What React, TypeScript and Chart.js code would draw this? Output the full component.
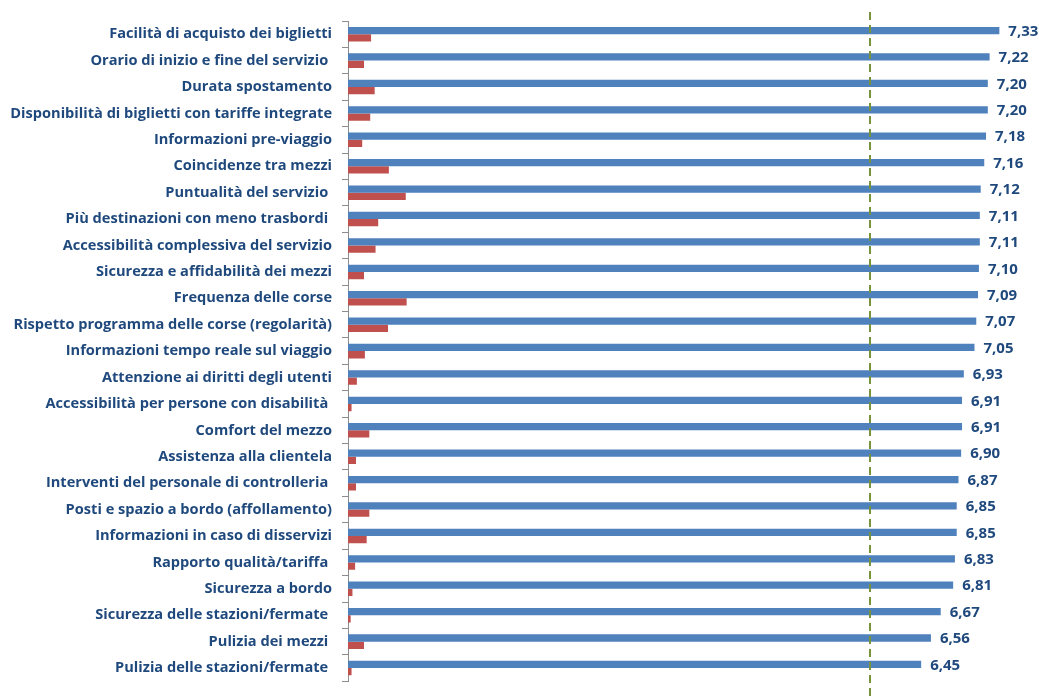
import React, { useEffect, useRef } from "react";
import { Chart, registerables } from "chart.js";

Chart.register(...registerables);

const categories = [
  "Facilità di acquisto dei biglietti",
  "Orario di inizio e fine del servizio ",
  "Durata spostamento",
  "Disponibilità di biglietti con tariffe integrate",
  "Informazioni pre-viaggio",
  "Coincidenze tra mezzi",
  "Puntualità del servizio ",
  "Più destinazioni con meno trasbordi ",
  "Accessibilità complessiva del servizio",
  "Sicurezza e affidabilità dei mezzi",
  "Frequenza delle corse",
  "Rispetto programma delle corse (regolarità)",
  "Informazioni tempo reale sul viaggio",
  "Attenzione ai diritti degli utenti",
  "Accessibilità per persone con disabilità ",
  "Comfort del mezzo",
  "Assistenza alla clientela",
  "Interventi del personale di controlleria ",
  "Posti e spazio a bordo (affollamento)",
  "Informazioni in caso di disservizi",
  "Rapporto qualità/tariffa ",
  "Sicurezza a bordo",
  "Sicurezza delle stazioni/fermate ",
  "Pulizia dei mezzi ",
  "Pulizia delle stazioni/fermate ",
];

const satisfaction = [
  7.33, 7.22, 7.2, 7.2, 7.18, 7.16, 7.12, 7.11, 7.11, 7.1, 7.09, 7.07, 7.05,
  6.93, 6.91, 6.91, 6.9, 6.87, 6.85, 6.85, 6.83, 6.81, 6.67, 6.56, 6.45,
];

const secondSeries = [
  0.26, 0.18, 0.3, 0.25, 0.16, 0.46, 0.65, 0.34, 0.31, 0.18, 0.66, 0.45, 0.19,
  0.1, 0.04, 0.24, 0.09, 0.09, 0.24, 0.21, 0.08, 0.05, 0.03, 0.18, 0.04,
];

const referenceLine = [5.87];

const axisMax = 7.776;

const LABEL_COLOR = "#1F497D";

export default function App() {
  const canvasRef = useRef<HTMLCanvasElement | null>(null);

  useEffect(() => {
    document.body.style.margin = "0";
    const canvas = canvasRef.current;
    if (!canvas) return;

    const valueLabels = {
      id: "valueLabels",
      afterDatasetsDraw(chart: any) {
        const ctx = chart.ctx;
        const xScale = chart.scales.x;
        ctx.save();
        ctx.strokeStyle = "#77933C";
        ctx.lineWidth = 2;
        ctx.setLineDash([8, 5]);
        referenceLine.forEach((v) => {
          const x = Math.round(xScale.getPixelForValue(v));
          ctx.beginPath();
          ctx.moveTo(x, 12);
          ctx.lineTo(x, 700);
          ctx.stroke();
        });
        ctx.restore();

        const meta = chart.getDatasetMeta(0);
        ctx.save();
        ctx.fillStyle = LABEL_COLOR;
        ctx.font = "bold 15px 'Open Sans'";
        ctx.textAlign = "left";
        ctx.textBaseline = "middle";
        meta.data.forEach((bar: any, i: number) => {
          const txt = satisfaction[i].toFixed(2).replace(".", ",");
          ctx.fillText(txt, bar.x + 9, bar.y + 1);
        });
        ctx.restore();
      },
    };

    const chart = new Chart(canvas, {
      type: "bar",
      data: {
        labels: categories,
        datasets: [
          {
            label: "Soddisfazione",
            data: satisfaction,
            backgroundColor: "#4F81BD",
            categoryPercentage: 0.55,
            barPercentage: 1,
          },
          {
            label: "Serie 2",
            data: secondSeries,
            backgroundColor: "#C0504D",
            categoryPercentage: 0.55,
            barPercentage: 1,
          },
        ],
      },
      options: {
        indexAxis: "y",
        animation: false,
        responsive: false,
        maintainAspectRatio: false,
        layout: { padding: { top: 21, bottom: 12, left: 0, right: 0 } },
        plugins: {
          legend: { display: false },
          tooltip: { enabled: false },
        },
        scales: {
          x: {
            display: false,
            min: 0,
            max: axisMax,
          },
          y: {
            afterFit(scale: any) {
              scale.width = 348;
            },
            border: { display: true, color: "#8C8C8C", width: 1 },
            grid: {
              display: true,
              drawOnChartArea: false,
              drawTicks: true,
              tickLength: 6,
              color: "#8C8C8C",
              offset: true,
            },
            ticks: {
              color: LABEL_COLOR,
              font: { family: "'Open Sans'", size: 14.6, weight: "bold" },
              padding: 10,
              autoSkip: false,
            },
          },
        },
      },
      plugins: [valueLabels],
    });

    return () => chart.destroy();
  }, []);

  return (
    <div style={{ width: 1039, height: 700 }}>
      <canvas ref={canvasRef} width={1039} height={700} style={{ display: "block" }} />
    </div>
  );
}
